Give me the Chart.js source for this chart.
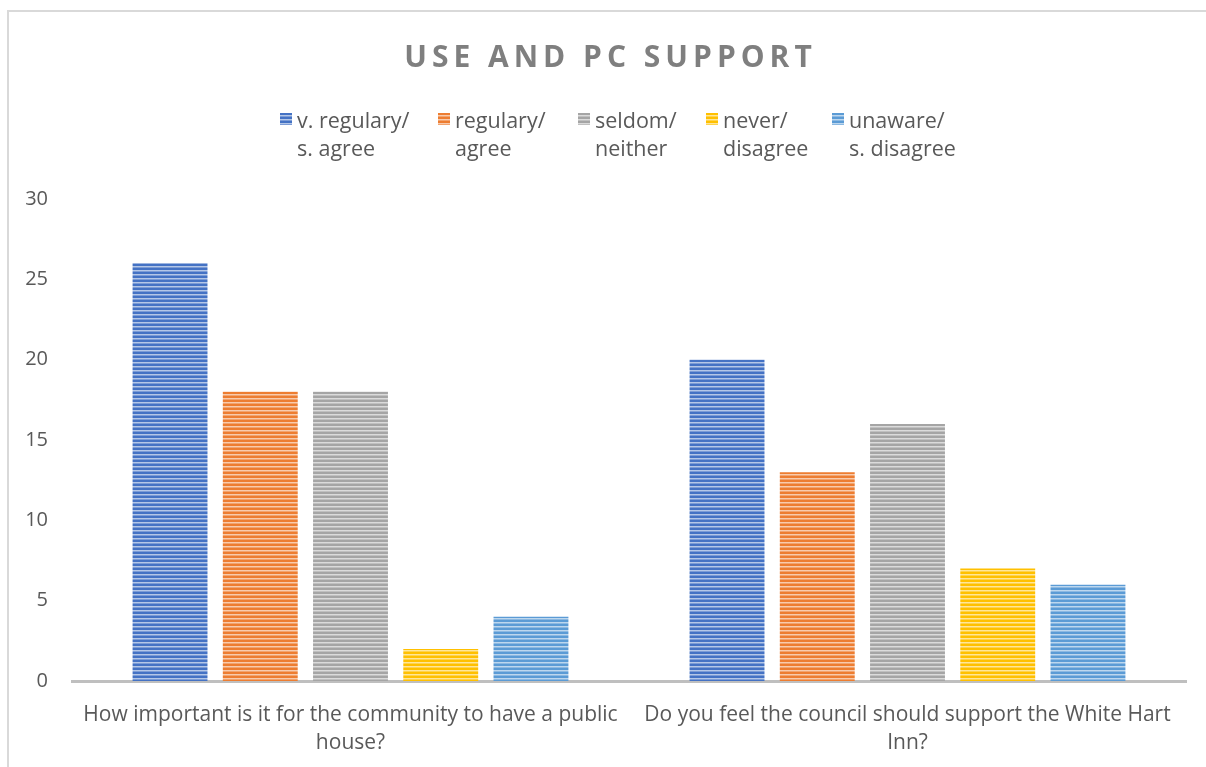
<!DOCTYPE html>
<html>
<head>
<meta charset="utf-8">
<script src="https://cdn.jsdelivr.net/npm/chart.js@4.4.1/dist/chart.umd.min.js"></script>
<style>
  body { margin: 0; background: #fff; }
  #wrap { position: relative; width: 1206px; height: 767px; overflow: hidden; font-family: "Open Sans", sans-serif; }
  #frame { position: absolute; left: 7px; top: 10px; width: 1300px; height: 900px;
           border-left: 2px solid #d9d9d9; border-top: 2px solid #d9d9d9; }
  #c { position: absolute; left: 0; top: 0; }
  #legend { position: absolute; left: 0; top: 106px; width: 1206px; height: 60px;
            color: #595959; font-size: 21.5px; line-height: 28px; }
  #legend .item { position: absolute; top: 0; display: flex; align-items: flex-start; white-space: nowrap; }
  #legend .box { width: 12px; height: 12px; margin-top: 7px; margin-right: 5px; }
</style>
</head>
<body>
<div id="wrap">
  <div id="frame"></div>
  <canvas id="c" width="1206" height="767"></canvas>
  <div id="legend"></div>
</div>
<script>
// data
var categories = [
    ["How important is it for the community to have a public", "house?"],
    ["Do you feel the council should support the White Hart", "Inn?"]
];
var seriesNames = [
    ["v. regulary/", "s. agree"],
    ["regulary/", "agree"],
    ["seldom/", "neither"],
    ["never/", "disagree"],
    ["unaware/", "s. disagree"]
];
var vRegulary = [26, 20];
var regulary  = [18, 13];
var seldom    = [18, 16];
var never     = [2, 7];
var unaware   = [4, 6];
var yTicks = [0, 5, 10, 15, 20, 25, 30];

var colors = ['#4472c4', '#ed7d31', '#a5a5a5', '#ffc000', '#5b9bd5'];
var textColor = '#595959';
var font = '"Open Sans", sans-serif';

// horizontal stripe fill like the excel pattern
function mix(hex, amt) {
    var r = parseInt(hex.substr(1,2),16), g = parseInt(hex.substr(3,2),16), b = parseInt(hex.substr(5,2),16);
    r = Math.round(r + (255-r)*amt); g = Math.round(g + (255-g)*amt); b = Math.round(b + (255-b)*amt);
    return 'rgb('+r+','+g+','+b+')';
}
function stripes(hex) {
    var cv = document.createElement('canvas');
    cv.width = 4; cv.height = 4;
    var x = cv.getContext('2d');
    x.fillStyle = hex; x.fillRect(0,0,4,2);
    x.fillStyle = mix(hex, 0.6); x.fillRect(0,2,4,1);
    x.fillStyle = mix(hex, 0.3); x.fillRect(0,3,4,1);
    return x.createPattern(cv, 'repeat');
}

var allData = [vRegulary, regulary, seldom, never, unaware];
var datasets = [];
for (var i = 0; i < allData.length; i++) {
    datasets.push({
        label: seriesNames[i].join(' '),
        data: allData[i],
        backgroundColor: stripes(colors[i]),
        borderWidth: 0,
        categoryPercentage: 0.81,
        barPercentage: 0.83
    });
}

// legend (two line labels), item spacing as in the excel legend
var legendLeft = [280, 438, 578, 706, 832];
var lg = document.getElementById('legend');
seriesNames.forEach(function(n, k) {
    var it = document.createElement('div');
    it.className = 'item';
    it.style.left = legendLeft[k] + 'px';
    var c = colors[k];
    it.innerHTML = '<div class="box" style="background: repeating-linear-gradient(' + c + ' 0 2px,' + mix(c, 0.6) + ' 2px 3px,' + mix(c, 0.3) + ' 3px 4px)"></div>'
        + '<div>' + n[0] + '<br>' + n[1] + '</div>';
    lg.appendChild(it);
});

var ctx = document.getElementById('c').getContext('2d');
var myChart = new Chart(ctx, {
    type: 'bar',
    data: { labels: categories, datasets: datasets },
    options: {
        responsive: false,
        animation: false,
        layout: { padding: { left: 1, right: 20, top: 0, bottom: -2 } },
        plugins: {
            tooltip: { enabled: false },
            legend: { display: false },
            title: {
                display: true,
                text: 'USE AND PC SUPPORT',
                color: '#7f7f7f',
                font: { family: font, size: 30, weight: 'bold' },
                padding: { top: 40, bottom: 123 }
            }
        },
        scales: {
            x: {
                grid: { display: false },
                border: { display: true, color: '#bfbfbf', width: 3 },
                ticks: { color: textColor, font: { family: font, size: 21, lineHeight: 1.38 }, padding: 11, maxRotation: 0 }
            },
            y: {
                min: 0, max: 30,
                afterBuildTicks: function(axis) { axis.ticks = yTicks.map(function(v){ return { value: v }; }); },
                afterFit: function(axis) { axis.width = 71; },
                grid: { display: false },
                border: { display: false },
                ticks: { color: textColor, font: { family: font, size: 20 }, padding: 16 }
            }
        }
    }
});

// letter spacing for the title, and centre it over the frame
var tb = myChart.titleBlock;
var origDraw = tb.draw.bind(tb);
tb.draw = function() {
    ctx.save();
    ctx.letterSpacing = '5px';
    ctx.translate(17, 0);
    origDraw();
    ctx.restore();
};
myChart.draw();
</script>
</body>
</html>
